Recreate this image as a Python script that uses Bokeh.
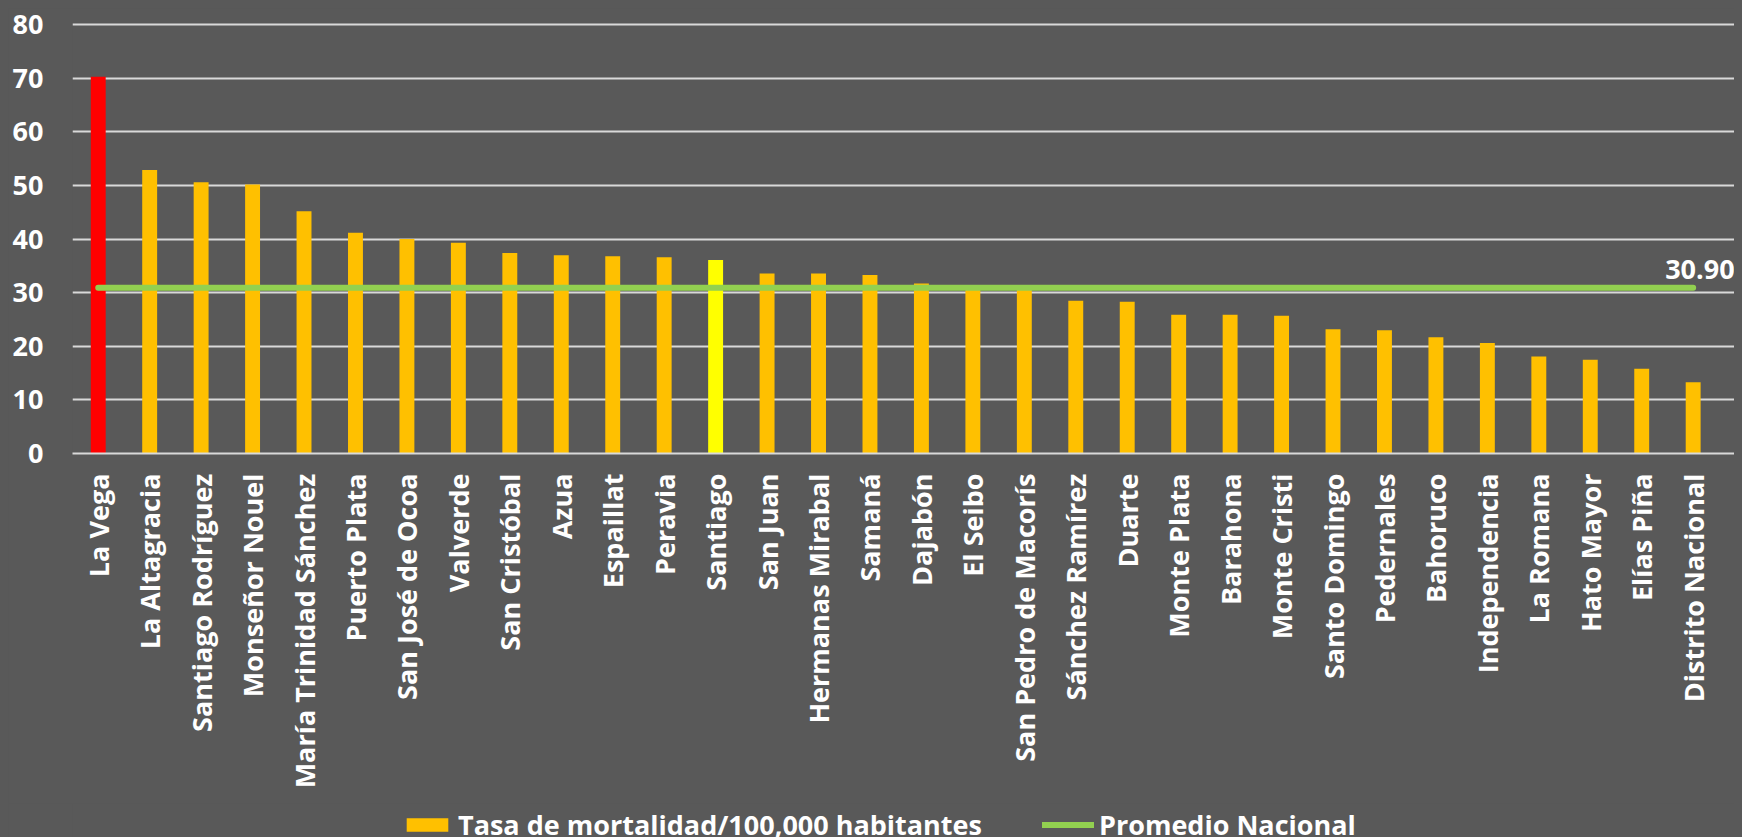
import math
from bokeh.plotting import figure
from bokeh.layouts import column
from bokeh.models import Range1d, FixedTicker, Label, Legend, LegendItem
from bokeh.embed import file_html
from bokeh.resources import INLINE

# ---- data ----
provinces = [
    "La Vega", "La Altagracia", "Santiago Rodríguez", "Monseñor Nouel",
    "María Trinidad Sánchez", "Puerto Plata", "San José de Ocoa", "Valverde",
    "San Cristóbal", "Azua", "Espaillat", "Peravia", "Santiago", "San Juan",
    "Hermanas Mirabal", "Samaná", "Dajabón", "El Seibo", "San Pedro de Macorís",
    "Sánchez Ramírez", "Duarte", "Monte Plata", "Barahona", "Monte Cristi",
    "Santo Domingo", "Pedernales", "Bahoruco", "Independencia", "La Romana",
    "Hato Mayor", "Elías Piña", "Distrito Nacional",
]
rates = [
    70.3, 52.9, 50.6, 50.2, 45.2, 41.2, 40.0, 39.3, 37.4, 37.0, 36.8, 36.6,
    36.1, 33.6, 33.6, 33.3, 31.7, 31.0, 30.6, 28.5, 28.3, 25.9, 25.9, 25.7,
    23.2, 23.0, 21.7, 20.6, 18.1, 17.5, 15.8, 13.3,
]
national_avg = 30.90
y_ticks = [0, 10, 20, 30, 40, 50, 60, 70, 80]
series_labels = ["Tasa de mortalidad/100,000 habitantes", "Promedio Nacional"]

# ---- styles ----
BG = "#595959"
BAR = "#FFC000"
HIGHLIGHT = {"La Vega": "#FF0000", "Santiago": "#FFFF00"}
GREEN = "#92D050"
GRID = "#D9D9D9"
FONT = "Open Sans"
BAR_W = 0.29
LINE_W = 6
X_PAD = 0.42   # room on the right so the average label is not clipped

n = len(provinces)
xs = [i + 0.5 for i in range(n)]
colors = [HIGHLIGHT.get(name, BAR) for name in provinces]

p = figure(
    width=1734, height=795,
    x_range=Range1d(0, n + X_PAD), y_range=Range1d(y_ticks[0], y_ticks[-1] + 0.4),
    output_backend="svg", toolbar_location=None,
    min_border_left=64, min_border_right=2, min_border_top=14, min_border_bottom=350,
    background_fill_color=BG, border_fill_color=BG, outline_line_color=None,
)

bars = p.vbar(x=xs, top=rates, width=BAR_W, bottom=0, fill_color=colors, line_color=None)
avg_line = p.line(x=xs, y=[national_avg] * n, line_color=GREEN, line_width=LINE_W, line_cap="round")

# grid
p.xgrid.grid_line_color = None
p.ygrid.grid_line_color = GRID
p.ygrid.grid_line_width = 2
p.ygrid.ticker = FixedTicker(ticks=y_ticks)

# y axis
p.yaxis.ticker = FixedTicker(ticks=y_ticks)
p.yaxis.axis_line_color = None
p.yaxis.major_tick_line_color = None
p.yaxis.minor_tick_line_color = None
p.yaxis.major_tick_in = 0
p.yaxis.major_tick_out = 0
p.yaxis.major_label_standoff = 29
p.yaxis.major_label_text_font = FONT
p.yaxis.major_label_text_font_style = "bold"
p.yaxis.major_label_text_font_size = "27px"
p.yaxis.major_label_text_color = "white"

# x axis
p.xaxis.ticker = FixedTicker(ticks=xs)
p.xaxis.major_label_overrides = {x: name for x, name in zip(xs, provinces)}
p.xaxis.major_label_orientation = math.pi / 2
p.xaxis.axis_line_color = GRID
p.xaxis.axis_line_width = 2
p.xaxis.major_tick_line_color = None
p.xaxis.minor_tick_line_color = None
p.xaxis.major_tick_in = 0
p.xaxis.major_tick_out = 0
p.xaxis.major_label_standoff = 20
p.xaxis.major_label_text_font = FONT
p.xaxis.major_label_text_font_style = "bold"
p.xaxis.major_label_text_font_size = "27px"
p.xaxis.major_label_text_color = "white"

# average label
p.add_layout(Label(
    x=xs[-1], y=national_avg, text=f"{national_avg:.2f}",
    x_offset=-28, y_offset=18, text_baseline="alphabetic",
    text_font=FONT, text_font_style="bold", text_font_size="27px", text_color="white",
))

# ---- legend strip (separate figure; hidden one-row renderers only supply the swatches) ----
lg = figure(
    width=1734, height=60, x_range=Range1d(0, 1), y_range=Range1d(0, 1),
    output_backend="svg", toolbar_location=None,
    x_axis_type=None, y_axis_type=None,
    min_border_left=0, min_border_right=0, min_border_top=0, min_border_bottom=0,
    background_fill_color=BG, border_fill_color=BG, outline_line_color=None,
)
lg.xgrid.visible = False
lg.ygrid.visible = False
sw_bar = lg.vbar(x=xs[1:2], top=rates[1:2], width=BAR_W, fill_color=BAR, line_color=None, visible=False)
sw_line = lg.line(x=xs[:2], y=[national_avg] * 2, line_color=GREEN, line_width=LINE_W,
                  line_cap="round", visible=False)

legend = Legend(
    items=[
        LegendItem(label=series_labels[0], renderers=[sw_bar]),
        LegendItem(label=series_labels[1], renderers=[sw_line]),
    ],
    orientation="horizontal", location=(329, 20), click_policy="none",
    inactive_fill_alpha=0,
    background_fill_alpha=0, border_line_color=None,
    label_text_font=FONT, label_text_font_style="bold", label_text_font_size="27px",
    label_text_color="white", glyph_width=52, glyph_height=17,
    label_standoff=5, spacing=60, padding=0, margin=0,
)
lg.add_layout(legend)

layout = column(p, lg, spacing=0)

html = file_html(layout, INLINE)
html = html.replace(
    "</head>",
    "<style>html { overflow: hidden !important; background: #595959 !important; }"
    " body { background: #595959 !important; margin: 8px !important; }</style></head>",
    1,
)
open("out.html", "w").write(html)
